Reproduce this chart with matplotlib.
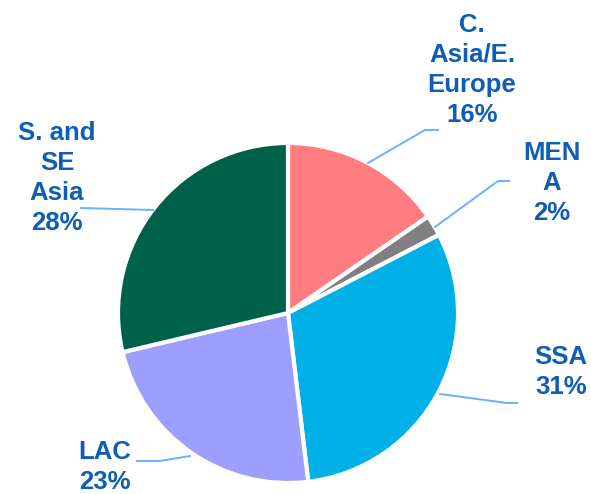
import numpy as np
import matplotlib.pyplot as plt

regions = ['C.\nAsia/E.\nEurope', 'MEN\nA', 'SSA', 'LAC', 'S. and\nSE\nAsia']
# wedge sizes; labels as printed
shares = [15.4, 2.0, 30.7, 23.2, 28.7]
pct_labels = ['16%', '2%', '31%', '23%', '28%']
colors = ['#FF7C80', '#808080', '#00B0E6', '#9E9EFF', '#00614B']

# label centres and leader lines, in pixel coords (y down)
label_pos = [(472, 70), (552, 183), (561, 372), (105, 467), (57, 178)]
leaders = [
    [(368, 163), (425, 130), (438, 130)],
    [(435, 227), (498, 181), (509, 181)],
    [(440, 394), (507, 403), (517, 403)],
    [(190, 456), (160, 461), (137, 461)],
    [(153, 210), (81, 208)],
]

text_color = '#0F5DB6'
line_color = '#66B3FF'

fig = plt.figure(figsize=(5.91, 4.94), dpi=100)
ax = fig.add_axes([0, 0, 1, 1])

# y axis is flipped below, so data-counterclockwise looks clockwise
ax.pie(shares, colors=colors, startangle=-90, counterclock=True,
       center=(288, 313), radius=170,
       wedgeprops=dict(edgecolor='white', linewidth=3))

ax.set_xlim(0, 591)
ax.set_ylim(494, 0)
ax.set_aspect('equal')
ax.axis('off')

for pts in leaders:
    xs, ys = zip(*pts)
    ax.plot(xs, ys, color=line_color, lw=1.4)

for name, pct, (x, y) in zip(regions, pct_labels, label_pos):
    ax.text(x, y, f'{name}\n{pct}', ha='center', va='center',
            fontsize=18.5, fontweight='bold', color=text_color,
            family='Liberation Sans', linespacing=1.32)

fig.savefig('out.png')
